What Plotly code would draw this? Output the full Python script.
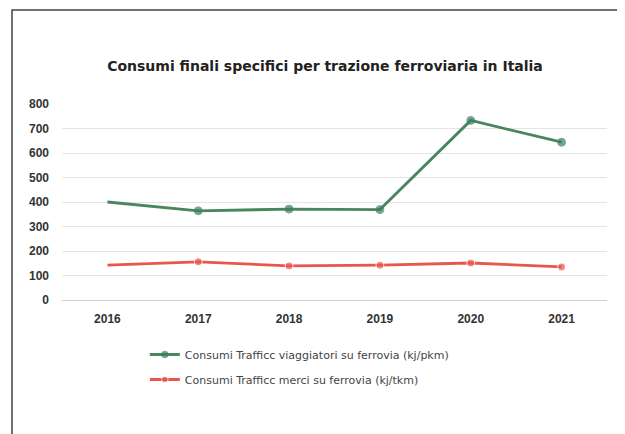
import plotly.graph_objects as go

years = ["2016", "2017", "2018", "2019", "2020", "2021"]
passenger = [400, 364, 371, 369, 733, 644]
freight = [142, 156, 139, 142, 151, 135]
name_passenger = "Consumi Trafficc viaggiatori su ferrovia (kj/pkm)"
name_freight = "Consumi Trafficc merci su ferrovia (kj/tkm)"
y_ticks = [0, 100, 200, 300, 400, 500, 600, 700, 800]

GREEN = "#4a865c"
GREEN_M = "#3a7d68"
RED = "#e8574c"

marker_sizes = [0, 8, 8, 8, 8, 8]

# page has an 8px body margin; compensate so the chart lands where the reference is
OFF = 8
W, H = 625 - OFF, 434 - OFF
L, T = 62 - OFF, 104 - OFF
PW, PH = 545, 196

fig = go.Figure()
fig.add_trace(go.Scatter(
    x=years, y=passenger, name=name_passenger, mode="lines+markers",
    line=dict(color=GREEN, width=2.8),
    marker=dict(color=GREEN_M, size=marker_sizes),
    legendgroup="a",
))
fig.add_trace(go.Scatter(
    x=years, y=freight, name=name_freight, mode="lines+markers",
    line=dict(color=RED, width=2.8),
    marker=dict(color=RED, size=marker_sizes),
    legendgroup="b",
))

fig.update_layout(
    width=W, height=H,
    paper_bgcolor="white", plot_bgcolor="white",
    margin=dict(l=L, r=W - L - PW, t=T, b=H - T - PH),
    font=dict(family="Liberation Sans, Arial, sans-serif", color="#333333"),
    title=dict(
        text="<b>Consumi finali specifici per trazione ferroviaria in Italia</b>",
        x=(325 - OFF) / W, xanchor="center", y=1 - (66 - OFF) / H, yanchor="middle",
        yref="container",
        font=dict(size=14, color="#222222", family="DejaVu Sans, sans-serif"),
    ),
    showlegend=True,
    legend=dict(
        x=0.152, xanchor="left", y=-0.204, yanchor="top",
        orientation="v", traceorder="grouped", tracegroupgap=6,
        font=dict(size=11, color="#444444", family="DejaVu Sans, sans-serif"),
        bgcolor="rgba(0,0,0,0)",
    ),
)
fig.update_xaxes(
    type="category", range=[-0.5, 5.5],
    showgrid=False, showline=False, zeroline=False,
    ticks="", ticklabelstandoff=10,
    tickfont=dict(size=12, color="#333333", weight="bold"),
)
fig.update_yaxes(
    range=[0, 800], tickvals=y_ticks,
    showgrid=True, gridcolor="#e4e4e4", gridwidth=1,
    zeroline=True, zerolinecolor="#cfcfcf", zerolinewidth=1,
    showline=False, ticks="", ticklabelstandoff=12,
    tickfont=dict(size=12, color="#333333", weight="bold"),
)

fig.add_shape(
    type="rect", xref="paper", yref="paper",
    x0=(12 - 62) / PW, x1=(621 - 62) / PW,
    y0=-0.75, y1=(300 - 10) / PH,
    line=dict(color="#444444", width=1.5),
    fillcolor="rgba(0,0,0,0)", layer="below",
)

fig.write_html("out.html")
